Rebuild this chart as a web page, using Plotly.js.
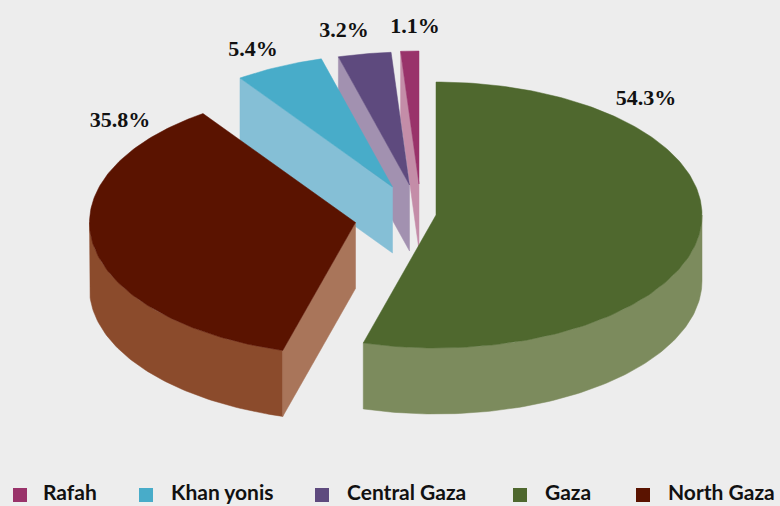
<!DOCTYPE html>
<html><head><meta charset="utf-8">
<script src="https://cdn.plot.ly/plotly-3.0.1.min.js"></script>
<style>html,body{margin:0;padding:0;background:#ededed}#c{width:780px;height:506px}</style>
</head><body><div id="c"></div>
<script>
// data
const categories = ['Gaza', 'North Gaza', 'Khan yonis', 'Central Gaza', 'Rafah'];
const shares = [54.3, 35.8, 5.4, 3.2, 1.1];
const legendOrder = ['Rafah', 'Khan yonis', 'Central Gaza', 'Gaza', 'North Gaza'];

// styles and layout
const topColors = {'Gaza':'#4f682e','North Gaza':'#5a1300','Khan yonis':'#48acc9','Central Gaza':'#5e4a7e','Rafah':'#99336a'};
const rimColors = {'Gaza':'#7c8b5d','North Gaza':'#8b4b2c'};
const cutColors = {'North Gaza':'#a9755a','Khan yonis':'#85bfd6','Central Gaza':'#a291b0','Rafah':'#c48da8'};
const centres = {'Gaza':[436,215],'North Gaza':[355.5,222.5],'Khan yonis':[392.5,187],'Central Gaza':[409.5,185],'Rafah':[419,184]};
const labelSpots = {'Gaza':[646,99],'North Gaza':[120,121],'Khan yonis':[253,50],'Central Gaza':[344,31],'Rafah':[415,27]};
const legendMarkX = [20,146,322,520,643];
const legendTextX = [43,171,347,545,668];
const legendY = 495;
const rx = 266, ry = 133, depth = 66;
const labelFont = {family:'"Liberation Serif", serif', size:22, color:'#111'};
const legendFont = {family:'Lato, "Open Sans", sans-serif', size:21, color:'#111'};

const total = shares.reduce((a,b)=>a+b,0);
const spans = {};
let acc = 0;
categories.forEach((c,i)=>{ const s = acc, e = acc + shares[i]/total*360; spans[c]=[s,e]; acc = e; });

function pt(c,a,dz){ const r=a*Math.PI/180, o=centres[c]; return [o[0]+rx*Math.sin(r), o[1]-ry*Math.cos(r)+(dz||0)]; }
function arc(c,a0,a1,dz){ const out=[], n=Math.max(4,Math.ceil(Math.abs(a1-a0)));
  for(let i=0;i<=n;i++) out.push(pt(c,a0+(a1-a0)*i/n,dz)); return out; }
function poly(points,color,name){ const xs=points.map(p=>p[0]), ys=points.map(p=>p[1]);
  xs.push(xs[0]); ys.push(ys[0]);
  return {type:'scatter',x:xs,y:ys,mode:'lines',fill:'toself',fillcolor:color,line:{width:0.5,color:color},
    name:name,showlegend:false,hoverinfo:'name'}; }

const traces = [];
['Rafah','Central Gaza','Khan yonis','North Gaza','Gaza'].forEach(c=>{
  const [s,e]=spans[c], o=centres[c];
  if(rimColors[c]){
    const a0=Math.max(s,90), a1=Math.min(e,270);
    traces.push(poly(arc(c,a0,a1,0).concat(arc(c,a1,a0,depth)),rimColors[c],c));
  }
  if(cutColors[c]){
    const p=pt(c,s,0), q=pt(c,s,depth);
    traces.push(poly([p,o,[o[0],o[1]+depth],q],cutColors[c],c));
  }
  traces.push(poly([o].concat(arc(c,s,e,0)),topColors[c],c));
});

// value labels
traces.push({type:'scatter',mode:'text',
  x:categories.map(c=>labelSpots[c][0]),y:categories.map(c=>labelSpots[c][1]),
  text:shares.map(v=>v.toFixed(1)+'%'),textposition:'middle center',
  textfont:Object.assign({},labelFont,{weight:700}),showlegend:false,hoverinfo:'skip'});
// legend
traces.push({type:'scatter',mode:'markers',x:legendMarkX,y:legendOrder.map(()=>legendY),
  marker:{symbol:'square',size:14,color:legendOrder.map(c=>topColors[c]),line:{width:0}},
  showlegend:false,hoverinfo:'skip'});
traces.push({type:'scatter',mode:'text',x:legendTextX,y:legendOrder.map(()=>legendY),text:legendOrder,
  textposition:'middle right',textfont:Object.assign({},legendFont,{weight:700}),showlegend:false,hoverinfo:'skip'});

Plotly.newPlot('c',traces,{
  width:780,height:506,margin:{l:0,r:0,t:0,b:0},
  paper_bgcolor:'#ededed',plot_bgcolor:'#ededed',showlegend:false,
  xaxis:{range:[0,780],visible:false,fixedrange:true},
  yaxis:{range:[506,0],visible:false,fixedrange:true}
},{displayModeBar:false,staticPlot:true});
</script></body></html>
